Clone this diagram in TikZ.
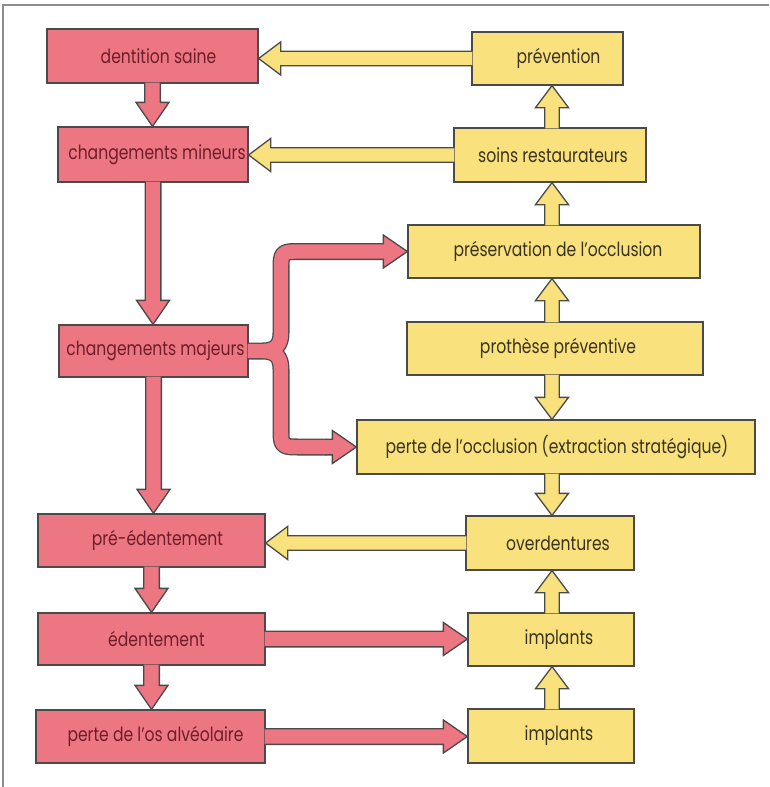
\documentclass[tikz,border=0pt]{standalone}
\usepackage{fontspec}
\setmainfont{Poppins}[FakeStretch=0.8]
\usetikzlibrary{calc}
\definecolor{redf}{HTML}{EC7681}
\definecolor{yelf}{HTML}{F9E27E}
\definecolor{edgec}{HTML}{4A4A4A}
\definecolor{redt}{HTML}{6E1E2A}
\definecolor{yelt}{HTML}{3A3220}
\definecolor{framec}{HTML}{8C8C8C}
% block arrow: #1 fill, #2 start, #3 tip, #4 shaft half width, #5 head half width, #6 head length
\newcommand\barrow[6]{%
  \path (#2) coordinate (bA) (#3) coordinate (bB);
  \path ($(bB)!#6!(bA)$) coordinate (bC) ($(bA)!-1pt!(bB)$) coordinate (bS);
  \filldraw[fill=#1, draw=edgec, line width=1.3pt, line join=miter]
    ($(bS)!#4!90:(bB)$) -- ($(bC)!#4!90:(bB)$) -- ($(bC)!#5!90:(bB)$) -- (bB)
    -- ($(bC)!#5!-90:(bB)$) -- ($(bC)!#4!-90:(bB)$) -- ($(bS)!#4!-90:(bB)$);
}
\newcommand\rarrow[2]{\barrow{redf}{#1}{#2}{7.85pt}{16.5pt}{24pt}}
\newcommand\yarrow[2]{\barrow{yelf}{#1}{#2}{7.2pt}{16.5pt}{22pt}}
\begin{document}
\begin{tikzpicture}[x=1pt, y=-1pt,
  box/.style={draw=edgec, line width=1.3pt, inner sep=0pt, font=\fontsize{19.5}{22}\selectfont},
  rbox/.style={box, fill=redf, text=redt},
  ybox/.style={box, fill=yelf, text=yelt}]
\useasboundingbox (0,0) rectangle (769,787);
\fill[white] (0,0) rectangle (769,787);
\draw[framec, line width=1.5pt] (3,787) -- (3,5) -- (769,5);

% red column
\node[rbox, minimum width=211, minimum height=54] (ds) at (152.5,56) {\hspace*{12pt}dentition saine};
\node[rbox, minimum width=190, minimum height=55] (cmi) at (153,154.5) {\hspace*{8pt}changements mineurs};
\node[rbox, minimum width=189, minimum height=52] (cma) at (153.5,351) {\hspace*{4pt}changements majeurs};
\node[rbox, minimum width=227, minimum height=53] (pre) at (151.5,540.5) {\hspace*{12pt}pré-édentement};
\node[rbox, minimum width=227, minimum height=52] (ede) at (151.5,639) {\hspace*{10pt}édentement};
\node[rbox, minimum width=229, minimum height=53] (pos) at (150.5,736.5) {\hspace*{10pt}perte de l’os alvéolaire};

% yellow column
\node[ybox, minimum width=151, minimum height=53] (prev) at (547.5,58.5) {\hspace*{22pt}prévention};
\node[ybox, minimum width=192, minimum height=54] (soins) at (550,155) {\hspace*{6pt}soins restaurateurs};
\node[ybox, minimum width=292, minimum height=53] (pres) at (554,251.5) {\hspace*{8pt}préservation de l’occlusion};
\node[ybox, minimum width=296, minimum height=53] (proth) at (555,348.5) {\hspace*{6pt}prothèse préventive};
\node[ybox, minimum width=398, minimum height=54] (perte) at (556,447) {\hspace*{2pt}perte de l’occlusion (extraction stratégique)};
\node[ybox, minimum width=168, minimum height=54] (over) at (550,543) {\hspace*{16pt}overdentures};
\node[ybox, minimum width=166, minimum height=53] (imp1) at (551,639.5) {\hspace*{16pt}implants};
\node[ybox, minimum width=166, minimum height=54] (imp2) at (551,736) {\hspace*{16pt}implants};

% red vertical arrows
\rarrow{ds.south}{ds.south |- cmi.north}
\rarrow{cmi.south}{cmi.south |- cma.north}
\rarrow{cma.south}{cma.south |- pre.north}
\rarrow{pre.south}{pre.south |- ede.north}
\rarrow{ede.south}{ede.south |- pos.north}
% red horizontal arrows
\rarrow{ede.east}{ede.east -| imp1.west}
\rarrow{pos.east}{pos.east -| imp2.west}

% yellow horizontal arrows
\yarrow{prev.west}{prev.west -| ds.east}
\yarrow{soins.west}{soins.west -| cmi.east}
\yarrow{over.west}{over.west -| pre.east}

% yellow vertical arrows
\coordinate (colx) at (552,0);
\yarrow{soins.north -| colx}{prev.south -| colx}
\yarrow{pres.north -| colx}{soins.south -| colx}
\yarrow{proth.north -| colx}{pres.south -| colx}
\yarrow{proth.south -| colx}{perte.north -| colx}
\yarrow{perte.south -| colx}{over.north -| colx}
\yarrow{imp1.north -| colx}{over.south -| colx}
\yarrow{imp2.north -| colx}{imp1.south -| colx}

% brace arrow from changements majeurs
\coordinate (bx) at (281,0);
\coordinate (bj) at ($(cma.east)+(-1,0)$);
\coordinate (bk) at ($(cma.east)+(14,0)$);
\coordinate (bu) at ($(pres.west)+(-30,0)$);
\coordinate (bl) at ($(perte.west)+(-30,0)$);
\coordinate (bm) at (bk -| bx);
\coordinate (bcu) at (bx |- bu);
\coordinate (bcl) at (bx |- bl);
\foreach \w/\c in {17/edgec,14.4/redf}{
  \draw[line width=\w pt, color=\c, line join=round]
    (bj) -- (bk) .. controls ($(bk)+(12,0)$) and ($(bm)+(0,-5)$) .. ($(bm)+(0,-18)$)
    -- ($(bcu)+(0,20)$) .. controls (bcu) .. ($(bcu)+(20,0)$) -- (bu)
    (bj) -- (bk) .. controls ($(bk)+(12,0)$) and ($(bm)+(0,5)$) .. ($(bm)+(0,18)$)
    -- ($(bcl)+(0,-20)$) .. controls (bcl) .. ($(bcl)+(20,0)$) -- (bl);
}
\rarrow{bu}{pres.west}
\rarrow{bl}{perte.west}
\end{tikzpicture}
\end{document}
